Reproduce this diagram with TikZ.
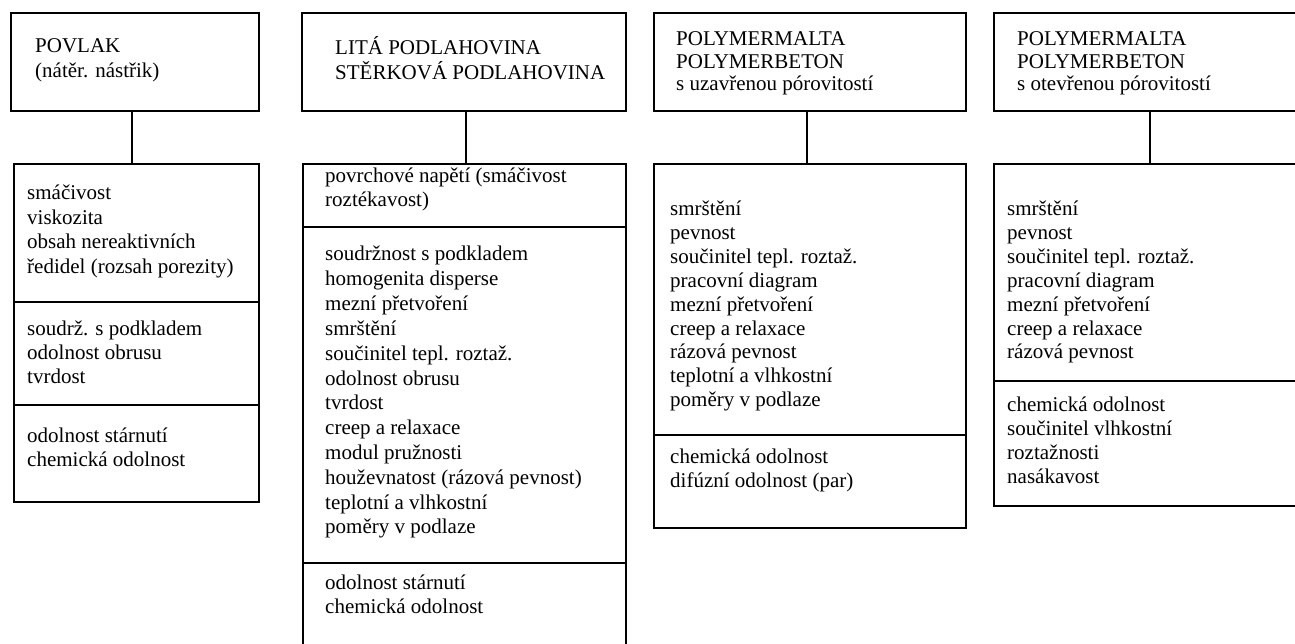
\documentclass[tikz,border=0pt]{standalone}
\usepackage{fontspec}
\setmainfont{Liberation Serif}
\begin{document}
\begin{tikzpicture}[x=1pt,y=-1pt,
  box/.style={draw=black, line width=1.8pt, anchor=north west, inner sep=0, rectangle},
  conn/.style={draw=black, line width=2.2pt},
  divl/.style={draw=black, line width=1.8pt},
  txt/.style={inner sep=0, anchor=base west, font=\fontsize{21}{25}\selectfont}]
\useasboundingbox (0,0) rectangle (1295,644);
\clip (0,0) rectangle (1295,644);
% ---------- column 1 ----------
\node[box, minimum width=248pt, minimum height=98pt] (h1) at (10,12) {};
\node[box, minimum width=245pt, minimum height=338pt] (l1) at (13,163) {};
\coordinate (c1a) at (132,110);
\coordinate (c1b) at (132,163);
\draw[conn] (c1a) -- (c1b);
\draw[divl] (l1.west |- 0,302) -- (l1.east |- 0,302);
\draw[divl] (l1.west |- 0,405) -- (l1.east |- 0,405);
\foreach \t [count=\i from 0] in {{POVLAK},{(nátěr. nástřik)}}
  \node[txt] (h1t\i) at (35,{53+\i*25}) {\t};
\foreach \t [count=\i from 0] in {{smáčivost},{viskozita},{obsah nereaktivních},{ředidel (rozsah porezity)}}
  \node[txt] (l1a\i) at (27,{200+\i*24.5}) {\t};
\foreach \t [count=\i from 0] in {{soudrž. s podkladem},{odolnost obrusu},{tvrdost}}
  \node[txt] (l1b\i) at (27,{335+\i*24}) {\t};
\foreach \t [count=\i from 0] in {{odolnost stárnutí},{chemická odolnost}}
  \node[txt] (l1c\i) at (27,{442+\i*24.5}) {\t};
% ---------- column 2 ----------
\node[box, minimum width=324pt, minimum height=98pt] (h2) at (301,12) {};
\node[box, minimum width=323pt, minimum height=500pt] (l2) at (302,163) {};
\coordinate (c2a) at (466,110);
\coordinate (c2b) at (466,163);
\draw[conn] (c2a) -- (c2b);
\draw[divl] (l2.west |- 0,227) -- (l2.east |- 0,227);
\draw[divl] (l2.west |- 0,563) -- (l2.east |- 0,563);
\foreach \t [count=\i from 0] in {{LITÁ PODLAHOVINA},{STĚRKOVÁ PODLAHOVINA}}
  \node[txt] (h2t\i) at (335,{55+\i*25}) {\t};
\foreach \t [count=\i from 0] in {{povrchové napětí (smáčivost},{roztékavost)}}
  \node[txt] (l2a\i) at (325,{183+\i*24}) {\t};
\foreach \t [count=\i from 0] in {{soudržnost s podkladem},{homogenita disperse},{mezní přetvoření},{smrštění},{součinitel tepl. roztaž.},{odolnost obrusu},{tvrdost},{creep a relaxace},{modul pružnosti},{houževnatost (rázová pevnost)},{teplotní a vlhkostní},{poměry v podlaze}}
  \node[txt] (l2b\i) at (325,{261+\i*24.8}) {\t};
\foreach \t [count=\i from 0] in {{odolnost stárnutí},{chemická odolnost}}
  \node[txt] (l2c\i) at (325,{589+\i*24.5}) {\t};
% ---------- column 3 ----------
\node[box, minimum width=312pt, minimum height=98pt] (h3) at (653,12) {};
\node[box, minimum width=312pt, minimum height=364pt] (l3) at (653,163) {};
\coordinate (c3a) at (807,110);
\coordinate (c3b) at (807,163);
\draw[conn] (c3a) -- (c3b);
\draw[divl] (l3.west |- 0,435) -- (l3.east |- 0,435);
\foreach \t [count=\i from 0] in {{POLYMERMALTA},{POLYMERBETON},{s uzavřenou pórovitostí}}
  \node[txt] (h3t\i) at (676,{46+\i*22.5}) {\t};
\foreach \t [count=\i from 0] in {{smrštění},{pevnost},{součinitel tepl. roztaž.},{pracovní diagram},{mezní přetvoření},{creep a relaxace},{rázová pevnost},{teplotní a vlhkostní},{poměry v podlaze}}
  \node[txt] (l3a\i) at (670,{216+\i*23.8}) {\t};
\foreach \t [count=\i from 0] in {{chemická odolnost},{difúzní odolnost (par)}}
  \node[txt] (l3b\i) at (670,{463+\i*24}) {\t};
% ---------- column 4 ----------
\node[box, minimum width=317pt, minimum height=98pt] (h4) at (993,12) {};
\node[box, minimum width=317pt, minimum height=342pt] (l4) at (993,163) {};
\coordinate (c4a) at (1150,110);
\coordinate (c4b) at (1150,163);
\draw[conn] (c4a) -- (c4b);
\draw[divl] (l4.west |- 0,381) -- (l4.east |- 0,381);
\foreach \t [count=\i from 0] in {{POLYMERMALTA},{POLYMERBETON},{s otevřenou pórovitostí}}
  \node[txt] (h4t\i) at (1017,{46+\i*22.5}) {\t};
\foreach \t [count=\i from 0] in {{smrštění},{pevnost},{součinitel tepl. roztaž.},{pracovní diagram},{mezní přetvoření},{creep a relaxace},{rázová pevnost}}
  \node[txt] (l4a\i) at (1007,{216+\i*23.8}) {\t};
\foreach \t [count=\i from 0] in {{chemická odolnost},{součinitel vlhkostní},{roztažnosti},{nasákavost}}
  \node[txt] (l4b\i) at (1007,{411+\i*24}) {\t};
\end{tikzpicture}
\end{document}
